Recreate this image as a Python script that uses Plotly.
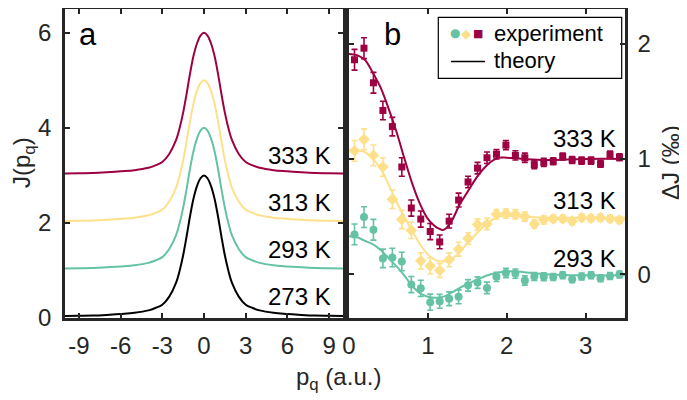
import plotly.graph_objects as go

# The page body has an 8px default margin, so the figure is drawn 8px in from the
# window's top-left corner; size it to fill the rest of the 687x400 window.
PAGE_W, PAGE_H, OFF = 687, 400, 8
W, H = PAGE_W - OFF, PAGE_H - OFF
FONT = "Liberation Sans, Arial, sans-serif"
INK = "#262626"
RED = "#9E0142"
YEL = "#FEE08B"
GRN = "#66C2A5"

# ---------------- Panel a: Compton profiles J(p_q) ----------------
p_a = [-10, -9, -8, -7, -6, -5, -4, -3.5, -3, -2.5, -2, -1.75, -1.5, -1.25, -1, -0.75,
       -0.5, -0.25, 0, 0.25, 0.5, 0.75, 1, 1.25, 1.5, 1.75, 2, 2.5, 3, 3.5, 4, 5, 6, 7, 8, 9, 10]
J_a = [0.04, 0.045, 0.05, 0.065, 0.085, 0.11, 0.16, 0.21, 0.28, 0.45, 0.75, 1.0, 1.32, 1.72,
       2.15, 2.52, 2.78, 2.94, 3.0, 2.94, 2.78, 2.52, 2.15, 1.72, 1.32, 1.0, 0.75, 0.45, 0.28,
       0.21, 0.16, 0.11, 0.085, 0.065, 0.05, 0.045, 0.04]
temps_a = ["273 K", "293 K", "313 K", "333 K"]
offsets_a = [0, 1, 2, 3]
colors_a = ["#000000", GRN, YEL, RED]
label_y_a = [0.45, 1.45, 2.43, 3.41]
xticks_a = [-9, -6, -3, 0, 3, 6, 9]
xticklabels_a = ["-9", "-6", "-3", "0", "3", "6", "9"]
yticks_a = [0, 2, 4, 6]

# ---------------- Panel b: Delta J ----------------
p_b = [0.07, 0.19, 0.31, 0.43, 0.55, 0.67, 0.79, 0.91, 1.03, 1.15, 1.27, 1.39, 1.51, 1.63,
       1.75, 1.87, 1.99, 2.11, 2.23, 2.35, 2.47, 2.59, 2.71, 2.83, 2.95, 3.07, 3.19, 3.31, 3.43]
dJ_293 = [0.345, 0.495, 0.385, 0.137, 0.145, 0.11, -0.09, -0.123, -0.243, -0.235, -0.213,
          -0.196, -0.097, -0.073, -0.119, -0.023, 0.01, 0.005, -0.055, -0.02, -0.022, -0.025,
          -0.01, -0.043, -0.02, -0.01, -0.035, -0.015, -0.003]
dJ_313 = [1.07, 1.17, 1.03, 0.93, 0.65, 0.475, 0.38, 0.116, 0.072, 0.032, 0.125, 0.217, 0.31,
          0.43, 0.435, 0.52, 0.525, 0.52, 0.50, 0.435, 0.47, 0.48, 0.48, 0.46, 0.49, 0.485,
          0.49, 0.48, 0.47]
dJ_333 = [1.86, 1.96, 1.66, 1.42, 1.28, 0.93, 0.574, 0.478, 0.37, 0.28, 0.46, 0.643, 0.80,
          0.92, 1.01, 1.04, 1.12, 1.03, 1.01, 0.95, 0.97, 0.98, 1.02, 0.99, 0.985, 0.985,
          0.957, 1.037, 1.014]
err_b = [0.09, 0.09, 0.09, 0.08, 0.08, 0.08, 0.07, 0.07, 0.07, 0.06, 0.06, 0.06, 0.05, 0.05,
         0.05, 0.04, 0.04, 0.04, 0.04, 0.035, 0.035, 0.03, 0.03, 0.03, 0.03, 0.03, 0.03, 0.03, 0.03]

p_th = [0, 0.1, 0.2, 0.3, 0.4, 0.5, 0.6, 0.7, 0.8, 0.9, 1.0, 1.1, 1.2, 1.3, 1.4, 1.5, 1.6,
        1.7, 1.8, 1.9, 2.0, 2.2, 2.5, 3.0, 3.5]
th_293 = [0.33, 0.32, 0.29, 0.26, 0.21, 0.14, 0.07, -0.01, -0.10, -0.165, -0.195, -0.205,
          -0.195, -0.16, -0.12, -0.085, -0.055, -0.025, 0.0, 0.015, 0.025, 0.02, 0.0, -0.01, -0.01]
th_313 = [1.08, 1.075, 1.06, 1.0, 0.92, 0.78, 0.63, 0.50, 0.38, 0.26, 0.17, 0.12, 0.11, 0.13,
          0.19, 0.27, 0.34, 0.41, 0.465, 0.50, 0.505, 0.50, 0.49, 0.49, 0.49]
th_333 = [1.91, 1.90, 1.86, 1.75, 1.62, 1.44, 1.24, 1.01, 0.79, 0.61, 0.48, 0.41, 0.385, 0.46,
          0.60, 0.71, 0.82, 0.91, 0.975, 1.01, 1.01, 1.0, 0.99, 1.0, 1.0]
xticks_b = [0, 1, 2, 3]
yticks_b = [0, 1, 2]

series_b = [
    ("293 K", dJ_293, th_293, GRN, "circle", 8, 0.137),
    ("313 K", dJ_313, th_313, YEL, "diamond", 9, 0.64),
    ("333 K", dJ_333, th_333, RED, "square", 7, 1.18),
]

fig = go.Figure()

for off, col in zip(offsets_a, colors_a):
    fig.add_trace(go.Scatter(
        x=p_a, y=[v + off for v in J_a], mode="lines", line=dict(color=col, width=2, shape="spline"),
        xaxis="x", yaxis="y", showlegend=False, hoverinfo="skip"))

for name, ys, th, col, sym, sz, ly in series_b:
    fig.add_trace(go.Scatter(
        x=p_th, y=th, mode="lines", line=dict(color=col, width=2, shape="spline"),
        xaxis="x2", yaxis="y2", showlegend=False, hoverinfo="skip"))
for name, ys, th, col, sym, sz, ly in series_b:
    fig.add_trace(go.Scatter(
        x=p_b, y=ys, mode="markers",
        marker=dict(symbol=sym, size=sz, color=col, line=dict(width=0)),
        error_y=dict(type="data", array=err_b, color=col, thickness=1.6, width=3),
        xaxis="x2", yaxis="y2", showlegend=False, name=name))


def px_x(v):
    """window pixel -> paper fraction"""
    return (v - OFF) / W


def px_y(v):
    return 1 - (v - OFF) / H


ax_common = dict(
    showline=True, linewidth=2.5, linecolor=INK, mirror="ticks", ticks="inside",
    ticklen=5, tickwidth=2, tickcolor=INK, showgrid=False, zeroline=False,
    tickfont=dict(family=FONT, size=24, color=INK), automargin=False,
)

annotations = []
for t, ly, col in zip(temps_a, label_y_a, colors_a):
    annotations.append(dict(x=9.28, y=ly, xref="x", yref="y", text=t, showarrow=False,
                            xanchor="right", yanchor="middle",
                            font=dict(family=FONT, size=24, color="#000000")))
for name, ys, th, col, sym, sz, ly in series_b:
    annotations.append(dict(x=3.415, y=ly, xref="x2", yref="y2", text=name, showarrow=False,
                            xanchor="right", yanchor="middle",
                            font=dict(family=FONT, size=24, color="#000000")))

# panel letters
annotations.append(dict(x=px_x(77), y=px_y(35), xref="paper", yref="paper", text="a",
                        showarrow=False, xanchor="left", yanchor="middle",
                        font=dict(family=FONT, size=31, color="#000000")))
annotations.append(dict(x=px_x(382), y=px_y(35), xref="paper", yref="paper", text="b",
                        showarrow=False, xanchor="left", yanchor="middle",
                        font=dict(family=FONT, size=31, color="#000000")))

# axis titles
annotations.append(dict(x=px_x(338), y=px_y(378), xref="paper", yref="paper",
                        text="p<sub>q</sub> (a.u.)", showarrow=False, xanchor="center",
                        yanchor="middle", font=dict(family=FONT, size=24, color=INK)))
annotations.append(dict(x=px_x(23), y=px_y(163), xref="paper", yref="paper",
                        text="J(p<sub>q</sub>)", showarrow=False, textangle=-90,
                        xanchor="center", yanchor="middle",
                        font=dict(family=FONT, size=24, color=INK)))
annotations.append(dict(x=px_x(670), y=px_y(163), xref="paper", yref="paper",
                        text="ΔJ (‰)", showarrow=False, textangle=-90,
                        xanchor="center", yanchor="middle",
                        font=dict(family=FONT, size=24, color=INK)))

# legend (manual)
annotations.append(dict(x=px_x(455), y=px_y(33), xref="paper", yref="paper", text="●",
                        showarrow=False, xanchor="center", yanchor="middle",
                        font=dict(family="DejaVu Sans", size=12, color=GRN)))
annotations.append(dict(x=px_x(466), y=px_y(33), xref="paper", yref="paper", text="◆",
                        showarrow=False, xanchor="center", yanchor="middle",
                        font=dict(family="DejaVu Sans", size=13, color=YEL)))
annotations.append(dict(x=px_x(477.7), y=px_y(33), xref="paper", yref="paper", text="■",
                        showarrow=False, xanchor="center", yanchor="middle",
                        font=dict(family="DejaVu Sans", size=11, color=RED)))
annotations.append(dict(x=px_x(492), y=px_y(33), xref="paper", yref="paper", text="experiment",
                        showarrow=False, xanchor="left", yanchor="middle",
                        font=dict(family=FONT, size=22, color="#000000")))
annotations.append(dict(x=px_x(492), y=px_y(60), xref="paper", yref="paper", text="theory",
                        showarrow=False, xanchor="left", yanchor="middle",
                        font=dict(family=FONT, size=22, color="#000000")))

shapes = [
    dict(type="rect", xref="paper", yref="paper", x0=px_x(438.3), x1=px_x(621.7),
         y0=px_y(78.3), y1=px_y(17.3), line=dict(color="#000000", width=1.2),
         fillcolor="white", layer="below"),
    dict(type="line", xref="paper", yref="paper", x0=px_x(451), x1=px_x(485),
         y0=px_y(61.5), y1=px_y(61.5), line=dict(color="#000000", width=1.6)),
]

fig.update_layout(
    width=W, height=H, margin=dict(l=0, r=0, t=0, b=0),
    paper_bgcolor="white", plot_bgcolor="rgba(0,0,0,0)",
    font=dict(family=FONT, color=INK),
    xaxis=dict(domain=[px_x(65), px_x(343)], range=[-10, 10],
               tickvals=xticks_a, ticktext=xticklabels_a, anchor="y",
               ticklabelstandoff=4, **ax_common),
    yaxis=dict(domain=[px_y(318), px_y(9)], range=[0, 6.5], tickvals=yticks_a,
               anchor="x", ticklabelstandoff=6, **ax_common),
    xaxis2=dict(domain=[px_x(349), px_x(625)], range=[0, 3.5], tickvals=xticks_b,
                anchor="y2", ticklabelstandoff=4, **ax_common),
    yaxis2=dict(domain=[px_y(318), px_y(9)], range=[-0.38, 2.3], tickvals=yticks_b,
                anchor="x2", side="right", ticklabelstandoff=5, **ax_common),
    annotations=annotations, shapes=shapes, showlegend=False,
)

fig.write_html("out.html")
